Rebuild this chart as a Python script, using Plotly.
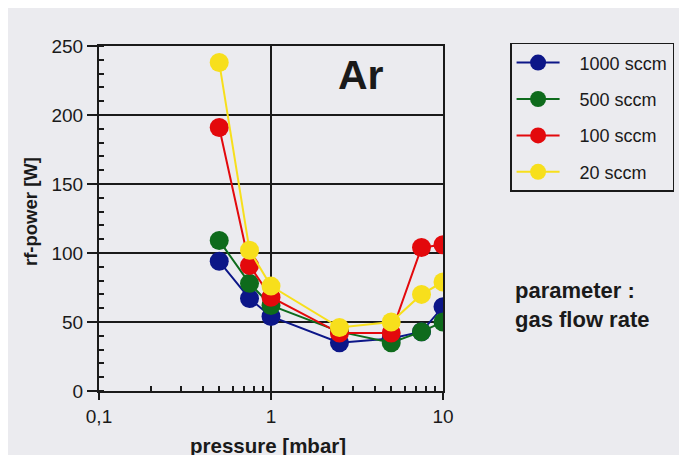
import plotly.graph_objects as go

pressure = [0.5, 0.75, 1.0, 2.5, 5.0, 7.5, 10.0]
series_names = ["1000 sccm", "500 sccm", "100 sccm", "20 sccm"]
power_1000 = [94, 67, 54, 35, 38, 43, 61]
power_500 = [109, 78, 62, 43, 35, 43, 50]
power_100 = [191, 91, 68, 42, 42, 104, 106]
power_20 = [238, 102, 76, 46, 50, 70, 79]
colors = ["#0c1688", "#0e6b1c", "#e3090c", "#f7df1c"]

x_tickvals = [0.1, 1, 10]
x_ticktext = ["0,1", "1", "10"]
y_tickvals = [0, 50, 100, 150, 200, 250]

BG = "#ebebef"
FONT = "Liberation Sans, Arial, sans-serif"
NB = "\u00a0"

fig = go.Figure()
for name, vals, col in zip(series_names, [power_1000, power_500, power_100, power_20], colors):
    fig.add_trace(go.Scatter(
        x=pressure, y=vals, name=NB * 3 + name, mode="lines+markers",
        line=dict(color=col, width=2),
        marker=dict(color=col, size=19, line=dict(width=0)),
        legendgroup=name,
    ))

fig.update_layout(
    width=687, height=455,
    margin=dict(l=91, r=252, t=38, b=72, autoexpand=False),
    paper_bgcolor=BG, plot_bgcolor=BG,
    font=dict(family=FONT, color="#1a1a1a", size=19),
    showlegend=True,
    legend=dict(
        x=1.195, y=1.009, xanchor="left", yanchor="top",
        bgcolor=BG, bordercolor="#1a1a1a", borderwidth=1.5,
        font=dict(size=18, family=FONT), tracegroupgap=10,
        itemwidth=43,
    ),
    xaxis=dict(
        type="log", range=[-1, 1],
        tickvals=x_tickvals, ticktext=x_ticktext,
        ticks="outside", ticklen=7, tickwidth=2, tickcolor="#1a1a1a",
        showgrid=True, gridcolor="#1a1a1a", gridwidth=2,
        showline=True, linecolor="#1a1a1a", linewidth=2, mirror=True,
        zeroline=False,
        minor=dict(tickvals=[0.2, 0.3, 0.4, 0.5, 0.6, 0.7, 0.8, 0.9,
                             2, 3, 4, 5, 6, 7, 8, 9],
                   ticks="inside", ticklen=5, tickwidth=2, tickcolor="#1a1a1a",
                   showgrid=False),
        tickfont=dict(size=19),
    ),
    yaxis=dict(
        range=[0, 250], tickvals=y_tickvals,
        ticks="outside", ticklen=10, tickwidth=2, tickcolor="#1a1a1a",
        showgrid=True, gridcolor="#1a1a1a", gridwidth=2,
        showline=True, linecolor="#1a1a1a", linewidth=2, mirror=True,
        zeroline=False,
        minor=dict(dtick=10, ticks="inside", ticklen=5, tickwidth=2,
                   tickcolor="#1a1a1a", showgrid=False),
        tickfont=dict(size=19),
    ),
    annotations=[
        dict(text="<b>Ar</b>", xref="paper", yref="paper", x=(361 - 99) / 344,
             y=(391 - 75) / 345, showarrow=False, font=dict(size=41),
             xanchor="center", yanchor="middle"),
        dict(text="<b>parameter :</b><br><b>gas flow rate</b>", xref="paper", yref="paper",
             x=(513 - 99) / 344, y=(391 - 305) / 345, showarrow=False,
             font=dict(size=22), xanchor="left", yanchor="middle", align="left"),
        dict(text="<b>pressure [mbar]</b>", xref="paper", yref="paper",
             x=(268 - 99) / 344, y=(391 - 445) / 345, showarrow=False,
             font=dict(size=20.5), xanchor="center", yanchor="middle"),
        dict(text="<b>rf-power [W]</b>", xref="paper", yref="paper",
             x=(30 - 99) / 344, y=(391 - 212) / 345, showarrow=False,
             font=dict(size=18.5), xanchor="center", yanchor="middle", textangle=-90),
    ],
)

fig.write_html("out.html")
